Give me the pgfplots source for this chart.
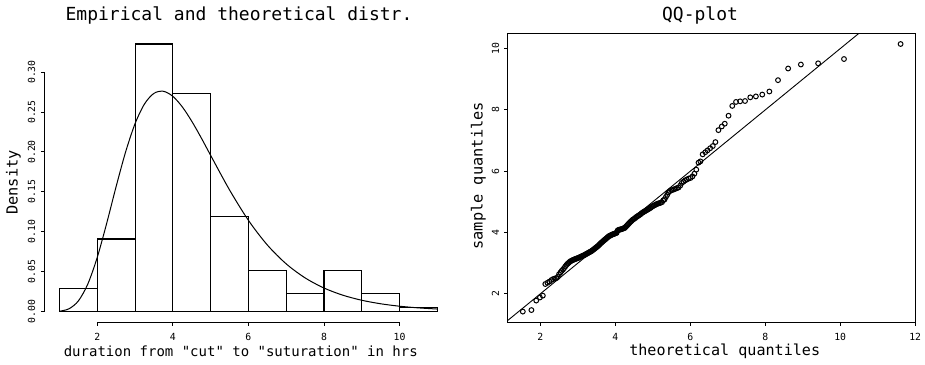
\documentclass[border=0pt]{standalone}
\usepackage{fontspec}
\setmainfont{DejaVu Sans Mono}
\setmonofont{DejaVu Sans Mono}
\usepackage{pgfplots}
\pgfplotsset{compat=1.18}
\begin{document}
\begin{tikzpicture}
\path[use as bounding box] (0,0) rectangle (925pt,364pt);
% ---------------- left panel: histogram + density ----------------
\begin{axis}[
  at={(44.4pt,41.7pt)}, anchor=south west,
  width=408pt, height=289pt, scale only axis,
  xmin=0.6, xmax=11.4, ymin=-0.0134, ymax=0.3486,
  axis x line*=bottom, axis y line*=left,
  axis line style={draw=none},
  tick align=outside, major tick length=3.5pt,
  tick style={black, line width=0.9pt},
  xtick={2,4,6,8,10}, xticklabels={2,4,6,8,10},
  ytick={0,0.05,0.1,0.15,0.2,0.25,0.3},
  yticklabels={0.00,0.05,0.10,0.15,0.20,0.25,0.30},
  ticklabel style={font=\fontsize{9.8}{10}\selectfont},
  xticklabel style={anchor=base, yshift=-14.4pt},
  yticklabel style={xshift=-5.7pt, rotate=90, anchor=base},
  clip=false,
]
\addplot[ybar, bar width=1, draw=black, fill=none, line width=1.1pt] coordinates {
 (1.5,0.02841) (2.5,0.09091) (3.5,0.33523) (4.5,0.27273) (5.5,0.11932)
 (6.5,0.05114) (7.5,0.02273) (8.5,0.05114) (9.5,0.02273) (10.5,0.00568)};
\addplot[black, line width=1.0pt, smooth] coordinates {
 (1,0.00048) (1.25,0.00348) (1.5,0.01342) (1.75,0.03461) (2,0.06810)
 (2.25,0.11081) (2.5,0.15688) (2.75,0.20005) (3,0.23542) (3.25,0.26012)
 (3.5,0.27339) (3.75,0.27599) (4,0.26964) (4.25,0.25643) (4.5,0.23850)
 (4.75,0.21776) (5,0.19575) (5.5,0.15245) (6,0.11436) (6.5,0.08350)
 (7,0.05981) (7.5,0.04225) (8,0.02956) (8.5,0.02054) (9,0.01421)
 (9.5,0.00981) (10,0.00676) (10.5,0.00466) (11,0.00322)};
\draw[black, line width=0.9pt] (axis cs:2,-0.0134) -- (axis cs:10,-0.0134);
\draw[black, line width=0.9pt] (axis cs:0.6,0) -- (axis cs:0.6,0.30);
\end{axis}
% ---------------- right panel: QQ plot ----------------
\begin{axis}[
  at={(507.7pt,41.7pt)}, anchor=south west,
  width=408pt, height=289pt, scale only axis,
  xmin=1.13, xmax=12.013, ymin=1.071, ymax=10.499,
  axis line style={black, line width=1.0pt},
  tick align=outside, major tick length=3.5pt,
  xtick pos=lower, ytick pos=left,
  tick style={black, line width=0.9pt},
  xtick={2,4,6,8,10,12}, xticklabels={2,4,6,8,10,12},
  ytick={2,4,6,8,10}, yticklabels={2,4,6,8,10},
  ticklabel style={font=\fontsize{9.8}{10}\selectfont},
  xticklabel style={anchor=base, yshift=-14.4pt},
  yticklabel style={xshift=-5.0pt, rotate=90, anchor=base},
]
\addplot[only marks, mark=o, mark size=2.4pt, mark options={line width=1.0pt, black}] coordinates {
 (1.533,1.42) (1.762,1.47) (1.891,1.78) (1.989,1.88) (2.067,1.94)
 (2.133,2.32) (2.19,2.36) (2.245,2.40) (2.297,2.45) (2.34,2.48) (2.385,2.50)
 (2.425,2.51) (2.465,2.55) (2.50,2.64) (2.54,2.70) (2.57,2.75) (2.604,2.79)
 (2.635,2.84) (2.665,2.89) (2.695,2.94) (2.726,2.98)
 (2.755,3.01) (2.781,3.04) (2.807,3.065) (2.834,3.08) (2.860,3.10) (2.886,3.11)
 (2.912,3.125) (2.939,3.14) (2.965,3.15) (2.988,3.16) (3.012,3.17) (3.035,3.185)
 (3.058,3.20) (3.082,3.21) (3.105,3.225) (3.128,3.24) (3.151,3.25) (3.175,3.265)
 (3.198,3.28) (3.220,3.295) (3.241,3.31) (3.263,3.325) (3.284,3.34) (3.306,3.355)
 (3.328,3.37) (3.349,3.385) (3.371,3.40) (3.392,3.42) (3.414,3.44) (3.435,3.46)
 (3.455,3.48) (3.476,3.50) (3.496,3.52) (3.517,3.54) (3.538,3.56) (3.558,3.585)
 (3.579,3.61) (3.599,3.635) (3.620,3.66) (3.641,3.68) (3.661,3.705) (3.682,3.725)
 (3.703,3.75) (3.724,3.77) (3.744,3.79) (3.765,3.81) (3.786,3.835) (3.806,3.855)
 (3.827,3.88) (3.848,3.89) (3.869,3.905) (3.890,3.915) (3.911,3.93) (3.932,3.94)
 (3.952,3.95) (3.973,3.96) (3.994,3.97) (4.015,3.98) (4.036,3.99)
 (4.058,4.06) (4.079,4.08) (4.101,4.09) (4.123,4.10) (4.144,4.10) (4.166,4.11)
 (4.187,4.12) (4.209,4.13) (4.231,4.14) (4.252,4.15) (4.275,4.18) (4.298,4.21)
 (4.321,4.24) (4.343,4.27) (4.366,4.30) (4.389,4.33) (4.412,4.36) (4.434,4.38)
 (4.457,4.41) (4.480,4.43) (4.505,4.45) (4.529,4.47) (4.554,4.50) (4.579,4.52)
 (4.604,4.54) (4.628,4.56) (4.653,4.58) (4.678,4.60) (4.702,4.63) (4.727,4.65)
 (4.755,4.67) (4.782,4.69) (4.810,4.71) (4.837,4.73) (4.865,4.75) (4.892,4.77)
 (4.920,4.79) (4.947,4.81) (4.975,4.84) (5.002,4.86) (5.033,4.88) (5.063,4.90)
 (5.094,4.92) (5.124,4.94) (5.155,4.95) (5.186,4.96) (5.216,4.98) (5.247,4.99)
 (5.28,5.05) (5.315,5.08) (5.35,5.16) (5.385,5.23) (5.42,5.31) (5.455,5.35)
 (5.49,5.38) (5.530,5.39) (5.569,5.41) (5.609,5.43) (5.648,5.45) (5.688,5.47)
 (5.732,5.53) (5.775,5.62) (5.819,5.66) (5.862,5.70) (5.906,5.73) (5.957,5.76)
 (6.008,5.78) (6.059,5.83) (6.110,5.92)
 (6.16,6.05) (6.22,6.28) (6.27,6.32) (6.33,6.55) (6.40,6.62) (6.46,6.68)
 (6.53,6.75) (6.60,6.82) (6.67,6.95)
 (6.75,7.34) (6.84,7.46) (6.92,7.55) (7.02,7.81)
 (7.12,8.13) (7.22,8.26) (7.33,8.28) (7.46,8.29) (7.60,8.41) (7.75,8.44)
 (7.92,8.50) (8.11,8.60) (8.34,8.97)
 (8.61,9.35) (8.95,9.48) (9.41,9.52) (10.10,9.66)
 (11.61,10.15)};
\addplot[black, line width=0.9pt] coordinates {(0,0) (13,13)};
\end{axis}
% ---------------- titles and axis labels ----------------
\node[font=\fontsize{18}{20}\selectfont] at (239pt,349pt) {Empirical and theoretical distr.};
\node[font=\fontsize{18}{20}\selectfont] at (700pt,349pt) {QQ-plot};
\node[font=\ttfamily\fontsize{14}{16}\selectfont] at (240.8pt,12.4pt) {duration from "cut" to "suturation" in hrs};
\node[font=\fontsize{15.1}{17}\selectfont] at (724.7pt,13pt) {theoretical quantiles};
\node[font=\fontsize{15.3}{17}\selectfont, rotate=90] at (13.3pt,181.5pt) {Density};
\node[font=\fontsize{15.3}{17}\selectfont, rotate=90] at (478.3pt,188.2pt) {sample quantiles};
\end{tikzpicture}
\end{document}
